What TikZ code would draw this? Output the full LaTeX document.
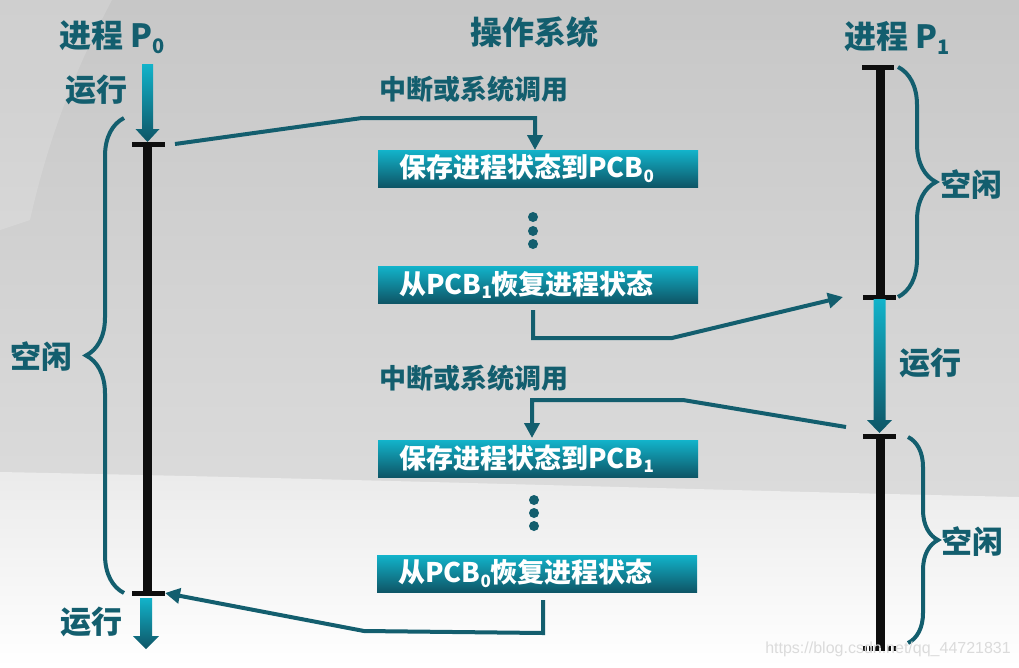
\documentclass[tikz,border=0pt]{standalone}
\usepackage{fontspec}
\setmainfont{Noto Sans CJK SC}
\newfontfamily\wmfont{Liberation Sans}
\usetikzlibrary{arrows.meta,decorations.pathreplacing}
\definecolor{tealdk}{HTML}{135E6E}
\definecolor{cyanc}{HTML}{12B3CA}
\definecolor{boxbot}{HTML}{0E5566}
\definecolor{barblk}{HTML}{0E0E0E}
\newcommand\lowsub[2]{\raisebox{-0.32ex}{\fontsize{#1}{#1}\selectfont #2}}
\begin{document}
\begin{tikzpicture}[x=1pt,y=-1pt,
  title/.style={text=tealdk,font=\fontsize{32}{36}\selectfont\bfseries,inner sep=0pt},
  biglab/.style={text=tealdk,font=\fontsize{31}{34}\selectfont\bfseries,inner sep=0pt},
  lab/.style={text=tealdk,font=\fontsize{27}{30}\selectfont\bfseries,inner sep=0pt,anchor=west},
  box/.style={top color=cyanc,bottom color=boxbot,minimum width=320pt,minimum height=37pt,
    text width=278pt,inner xsep=21pt,inner ysep=0pt,align=left,text=white,
    font=\fontsize{27}{30}\selectfont\bfseries,anchor=north west},
  conn/.style={draw=tealdk,line width=4pt,line join=miter},
  tip/.style={-{Triangle[length=15pt,width=15pt]}},
  bar/.style={draw=barblk,line width=9pt},
  tbar/.style={draw=barblk,line width=5pt},
  brace/.style={draw=tealdk,line width=4pt,decorate,decoration={brace,amplitude=#1,aspect=0.5}},
  run/.style={top color=cyanc,bottom color=boxbot,draw=none},
  dot/.style={circle,fill=tealdk,inner sep=0pt,minimum size=10pt}
]
% background
\useasboundingbox (0,0) rectangle (1019,667);
\shade[top color=black!22,bottom color=black!14] (0,0) rectangle (1019,500);
\shade[top color=black!8,bottom color=white] (0,472) .. controls (400,480) and (700,490) .. (1019,497) -- (1019,667) -- (0,667) -- cycle;
\fill[white,opacity=0.15] (0,0) -- (112,0) .. controls (80,60) and (50,130) .. (30,220) -- (0,230) -- cycle;

% titles
\node[title,anchor=west] (t0) at (59,37) {进程 P\lowsub{20}{0}};
\node[title] (tos) at (534,32) {操作系统};
\node[title,anchor=west] (t1) at (844,38) {进程 P\lowsub{20}{1}};

% process P0 bar
\coordinate (p0a) at (147,144);
\coordinate (p0b) at (147,593);
\draw[bar] (p0a) -- (p0b);
\draw[tbar] ([xshift=-15pt]p0a) -- ([xshift=18pt]p0a);
\draw[tbar] ([xshift=-15pt]p0b) -- ([xshift=18pt]p0b);
\shade[run] (142,64) -- (153,64) -- (153,129) -- (159.5,129) -- (147.5,142) -- (135.5,129) -- (142,129) -- cycle;
\shade[run] (140,598) -- (152,598) -- (152,636) -- (159,636) -- (146,649) -- (133,636) -- (140,636) -- cycle;
\node[biglab] (r0a) at (96,90) {运行};
\node[biglab] (r0b) at (91,622) {运行};
\coordinate (br0a) at (124,593);
\coordinate (br0b) at (124,118);
\draw[brace=38pt] (br0a) -- (br0b);
\node[biglab] (k0) at (41,357) {空闲};

% process P1 bar
\coordinate (p1a) at (880,67);
\coordinate (p1b) at (880,297);
\coordinate (p1c) at (880,436);
\coordinate (p1d) at (880,648);
\draw[bar] (p1a) -- (p1b);
\draw[bar] (p1c) -- (p1d);
\draw[tbar] ([xshift=-18pt]p1a) -- ([xshift=14pt]p1a);
\draw[tbar] ([xshift=-17pt]p1b) -- ([xshift=16pt]p1b);
\draw[tbar] ([xshift=-17pt]p1c) -- ([xshift=16pt]p1c);
\draw[tbar,dash pattern=on 4pt off 2pt] ([xshift=-17pt]p1d) -- ([xshift=16pt]p1d);
\shade[run] (873.5,299) -- (885.5,299) -- (885.5,420) -- (892,420) -- (879.5,433) -- (867,420) -- (873.5,420) -- cycle;
\node[biglab] (r1) at (930,363) {运行};
\coordinate (br1a) at (898,67);
\coordinate (br1b) at (898,297);
\coordinate (br1c) at (908,437);
\coordinate (br1d) at (908,643);
\draw[brace=38pt] (br1a) -- (br1b);
\draw[brace=30pt] (br1c) -- (br1d);
\node[biglab] (k1a) at (971,185) {空闲};
\node[biglab] (k1b) at (972,542) {空闲};

% OS column
\node[lab] (int1) at (379,89) {中断或系统调用};
\node[lab] (int2) at (379,378) {中断或系统调用};
\node[box] (b1) at (378,150) {保存进程状态到PCB\lowsub{17}{0}};
\node[box] (b2) at (378,266) {从PCB\lowsub{17}{1}恢复进程状态};
\node[box] (b3) at (378,440) {保存进程状态到PCB\lowsub{17}{1}};
\node[box] (b4) at (377,555) {从PCB\lowsub{17}{0}恢复进程状态};
\node[dot] (d1) at (533,217) {};
\node[dot] (d2) at (533,231) {};
\node[dot] (d3) at (533,244) {};
\node[dot] (d4) at (534,500) {};
\node[dot] (d5) at (534,513) {};
\node[dot] (d6) at (534,526) {};

% connectors
\coordinate (c1s) at (175,144);
\coordinate (c1k) at (362,118);
\draw[conn,tip] (c1s) -- (c1k) -- (535,118) -- (535,0 |- b1.north);
\coordinate (c2s) at (533,310);
\coordinate (c2e) at (843,297);
\draw[conn,tip] (c2s) -- (533,338) -- (672,338) -- (c2e);
\coordinate (c3s) at (846,427);
\draw[conn,tip] (c3s) -- (683,400) -- (532,400) -- ([yshift=2pt]532,0 |- b3.north);
\coordinate (c4s) at (543,600);
\coordinate (c4e) at (165,593);
\draw[conn,tip] (c4s) -- (543,633) -- (364,631) -- (c4e);

% watermark
\node[text=black!14,font=\wmfont\fontsize{16}{18}\selectfont,anchor=east,inner sep=0pt] (wm) at (1011,649) {https://blog.csdn.net/qq\_44721831};
\end{tikzpicture}
\end{document}
